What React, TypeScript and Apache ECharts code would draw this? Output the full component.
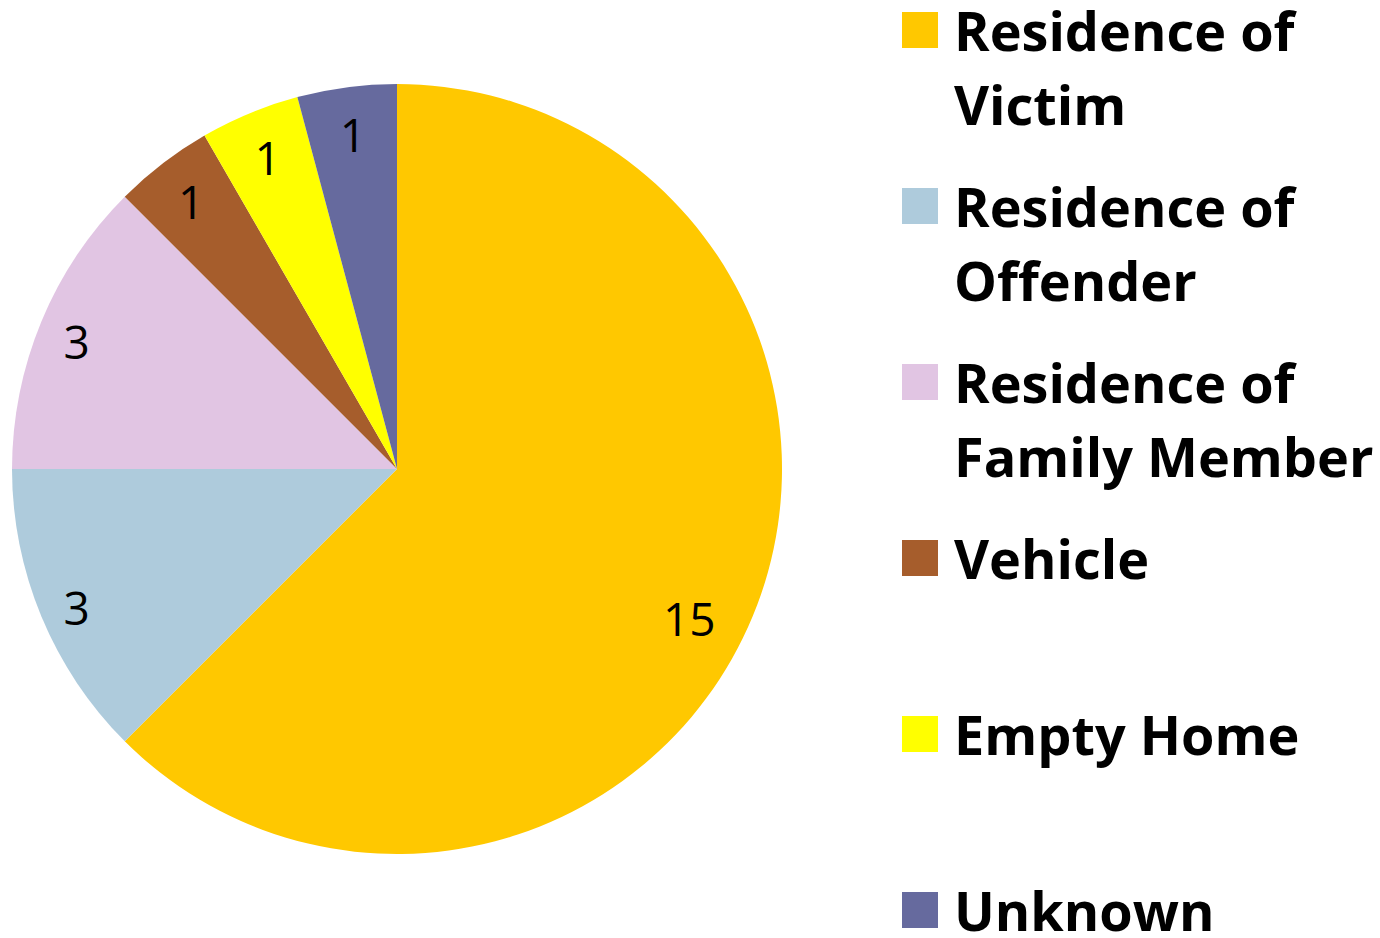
import React, { useEffect, useRef } from "react";
import * as echarts from "echarts";

const categories = [
  "Residence of Victim",
  "Residence of Offender",
  "Residence of Family Member",
  "Vehicle",
  "Empty Home",
  "Unknown",
];
const values = [15, 3, 3, 1, 1, 1];
const colors = ["#FFC800", "#AECBDC", "#E1C5E3", "#A65D2C", "#FFFF00", "#666A9E"];

// label nudges (style only) to mimic the original label placement
const labelNudge: Record<number, [number, number]> = {
  0: [-20, 20],
  1: [-8, 9],
  2: [-8, 1],
};

function wrapLegend(name: string): string {
  const prefix = "Residence of ";
  if (name.startsWith(prefix)) {
    return "{e|}\n{a|Residence of}\n{b|" + name.slice(prefix.length) + "}";
  }
  return "{e|}\n{a|" + name + "}\n{b| }";
}

export default function App() {
  const ref = useRef<HTMLDivElement>(null);
  useEffect(() => {
    if (!ref.current) return;
    const chart = echarts.init(ref.current, undefined, { renderer: "svg" });
    const R = 385;
    const center = [397, 469];
    const font = {
      fontFamily: "Open Sans",
      fontWeight: "bold" as const,
      fontSize: 54,
      color: "#000000",
    };
    chart.setOption({
      animation: false,
      backgroundColor: "#ffffff",
      color: colors,
      legend: {
        orient: "vertical",
        left: 902,
        top: -90,
        height: 1500,
        padding: 0,
        itemWidth: 36,
        itemHeight: 36,
        itemGap: -64,
        icon: "rect",
        data: categories,
        formatter: wrapLegend,
        textStyle: {
          ...font,
          lineHeight: 56,
          padding: [0, 0, 0, 11],
          rich: {
            e: { ...font, lineHeight: 92 },
            a: { ...font, lineHeight: 56 },
            b: { ...font, lineHeight: 92 },
          },
        },
      },
      series: [
        {
          type: "pie",
          center,
          radius: [0, R],
          startAngle: 90,
          clockwise: true,
          silent: true,
          label: { show: false },
          labelLine: { show: false },
          itemStyle: { borderWidth: 0 },
          data: categories.map((name, i) => ({
            name,
            value: values[i],
            itemStyle: { color: colors[i] },
          })),
        },
        {
          type: "pie",
          center,
          radius: [R * 0.74, R],
          startAngle: 90,
          clockwise: true,
          silent: true,
          itemStyle: { color: "rgba(0,0,0,0)", borderWidth: 0 },
          labelLine: { show: false },
          label: {
            show: true,
            position: "inside",
            formatter: "{c}",
            fontFamily: "Open Sans",
            fontSize: 46,
            color: "#000000",
          },
          data: categories.map((name, i) => ({
            name,
            value: values[i],
            label: labelNudge[i] ? { offset: labelNudge[i] } : undefined,
          })),
        },
      ],
    });
    return () => chart.dispose();
  }, []);
  return (
    <div
      ref={ref}
      style={{ position: "fixed", left: 0, top: 0, width: 1380, height: 938 }}
    />
  );
}
